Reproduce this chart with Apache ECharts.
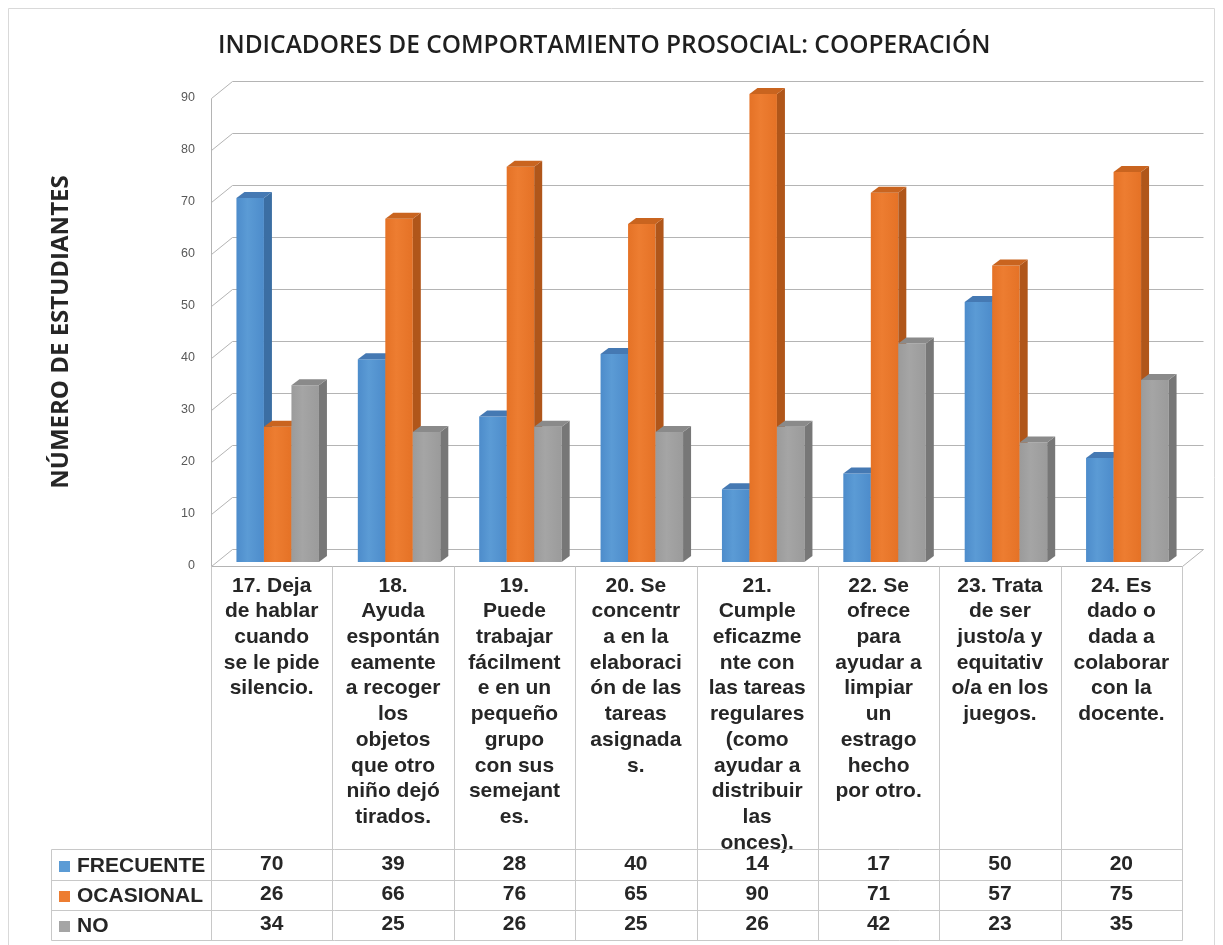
<!DOCTYPE html>
<html lang="es">
<head>
  <meta charset="UTF-8">
  <title>Indicadores de comportamiento prosocial</title>
  <style>
    * { margin: 0; padding: 0; }
    body { background: #ffffff; }
    #chart { width: 1223px; height: 945px; }
  </style>
</head>
<body>
  <div id="chart"></div>

  <script src="https://cdn.jsdelivr.net/npm/echarts@6/dist/echarts.min.js"></script>
  <script type="text/javascript">
  // datos
  var categories = [
    '17. Deja\nde hablar\ncuando\nse le pide\nsilencio.',
    '18.\nAyuda\nespontán\neamente\na recoger\nlos\nobjetos\nque otro\nniño dejó\ntirados.',
    '19.\nPuede\ntrabajar\nfácilment\ne en un\npequeño\ngrupo\ncon sus\nsemejant\nes.',
    '20. Se\nconcentr\na en la\nelaboraci\nón de las\ntareas\nasignada\ns.',
    '21.\nCumple\neficazme\nnte con\nlas tareas\nregulares\n(como\nayudar a\ndistribuir\nlas\nonces).',
    '22. Se\nofrece\npara\nayudar a\nlimpiar\nun\nestrago\nhecho\npor otro.',
    '23. Trata\nde ser\njusto/a y\nequitativ\no/a en los\njuegos.',
    '24. Es\ndado o\ndada a\ncolaborar\ncon la\ndocente.'
  ];
  var frecuente = [70, 39, 28, 40, 14, 17, 50, 20];
  var ocasional = [26, 66, 76, 65, 90, 71, 57, 75];
  var no = [34, 25, 26, 25, 26, 42, 23, 35];
  var yTicks = [0, 10, 20, 30, 40, 50, 60, 70, 80, 90];
  var seriesNames = ['FRECUENTE', 'OCASIONAL', 'NO'];

  var colors = [
    { front: '#5b9bd5', front2: '#4d8ccb', side: '#3b6ea3', top: '#4579b3' },
    { front: '#ed7d31', front2: '#e57226', side: '#b0561a', top: '#c9641f' },
    { front: '#a5a5a5', front2: '#9b9b9b', side: '#777777', top: '#8a8a8a' }
  ];

  // 3D look
  var WALL_DX = 21, WALL_DY = 17;
  var BAR_W = 27.5, BAR_DX = 8, BAR_DY = 6, BAR_SHIFT = 6, BAR_LIFT = 4;
  var GRID_COLOR = '#b4b4b4';
  var TABLE_COLOR = '#c8c8c8';
  // table rows (offsets below the floor line)
  var ROW_LINES = [283, 314, 344, 374];
  var TABLE_LEFT = 51;
  var LABEL_FONT = '"Liberation Sans", Arial, sans-serif';
  var TITLE_FONT = '"Open Sans", sans-serif';

  function line(x1, y1, x2, y2, color) {
    return { type: 'line', shape: { x1: x1, y1: y1, x2: x2, y2: y2 },
      style: { stroke: color, lineWidth: 1 } };
  }

  function renderWall(params, api) {
    var v = api.value(1);
    var cs = params.coordSys;
    var y = Math.round(api.coord([0, v])[1]) + 0.5;
    var gx = Math.round(cs.x) + 0.5;
    var gr = Math.round(cs.x + cs.width) + 0.5;
    var children = [{
      type: 'polyline',
      shape: { points: [[gx, y], [gx + WALL_DX, y - WALL_DY], [gr + WALL_DX, y - WALL_DY]] },
      style: { stroke: GRID_COLOR, lineWidth: 1, fill: null }
    }];
    if (v === 0) {
      children.push(line(gx, y, gr, y, GRID_COLOR));
      children.push(line(gr, y, gr + WALL_DX, y - WALL_DY, GRID_COLOR));
      children.push(line(gx, Math.round(cs.y) + 0.5, gx, y, GRID_COLOR));
    }
    return { type: 'group', children: children };
  }

  function makeBarRenderer(s) {
    var c = colors[s];
    return function (params, api) {
      var i = api.value(0);
      var base = api.coord([i, 0]);
      var topPt = api.coord([i, api.value(1)]);
      var x0 = base[0] + BAR_SHIFT + (s - 1.5) * BAR_W;
      var x1 = x0 + BAR_W;
      var yb = base[1] - BAR_LIFT;
      var yt = topPt[1] - BAR_LIFT;
      return {
        type: 'group',
        children: [
          { type: 'rect', shape: { x: x0, y: yt, width: BAR_W, height: yb - yt },
            style: { fill: new echarts.graphic.LinearGradient(0, 0, 1, 0, [
              { offset: 0, color: c.front2 }, { offset: 0.4, color: c.front }, { offset: 1, color: c.front2 }]) } },
          { type: 'polygon', shape: { points: [[x1, yt], [x1 + BAR_DX, yt - BAR_DY], [x1 + BAR_DX, yb - BAR_DY], [x1, yb]] },
            style: { fill: c.side } },
          { type: 'polygon', shape: { points: [[x0, yt], [x0 + BAR_DX, yt - BAR_DY], [x1 + BAR_DX, yt - BAR_DY], [x1, yt]] },
            style: { fill: c.top } }
        ]
      };
    };
  }

  var rows = [frecuente, ocasional, no];

  function renderTable(params, api) {
    var i = api.value(0);
    var base = api.coord([i, 0]);
    var bw = api.size([1, 0])[0];
    var cs = params.coordSys;
    var y0 = Math.round(base[1]) + 0.5;
    var bottom = y0 + ROW_LINES[ROW_LINES.length - 1];
    var xr = Math.round(base[0] + bw / 2) + 0.5;
    var children = [line(xr, y0, xr, bottom, TABLE_COLOR)];
    rows.forEach(function (vals, r) {
      children.push({
        type: 'text',
        style: {
          text: String(vals[i]),
          x: base[0], y: y0 + (ROW_LINES[r] + ROW_LINES[r + 1]) / 2 - 1,
          align: 'center', verticalAlign: 'middle',
          fontSize: 21, fontWeight: 'bold', fontFamily: LABEL_FONT,
          fill: '#262626'
        }
      });
    });
    if (i === 0) {
      var gx = Math.round(cs.x) + 0.5;
      var gr = Math.round(cs.x + cs.width) + 0.5;
      ROW_LINES.forEach(function (off) {
        children.push(line(TABLE_LEFT + 0.5, y0 + off, gr, y0 + off, TABLE_COLOR));
      });
      children.push(line(TABLE_LEFT + 0.5, y0 + ROW_LINES[0], TABLE_LEFT + 0.5, bottom, TABLE_COLOR));
      children.push(line(gx, y0, gx, bottom, TABLE_COLOR));
    }
    return { type: 'group', children: children };
  }

  function main() {
    var chart = echarts.init(document.getElementById('chart'));
    var option = {
      animation: false,
      backgroundColor: '#ffffff',
      title: {
        text: 'INDICADORES DE COMPORTAMIENTO PROSOCIAL: COOPERACIÓN',
        left: 213, top: 29,
        textStyle: { fontFamily: TITLE_FONT, fontSize: 24.5, fontWeight: 600, color: '#1f1f1f' }
      },
      graphic: [{
        type: 'rect', shape: { x: 8.5, y: 8.5, width: 1206, height: 960 },
        style: { fill: null, stroke: '#d9d9d9', lineWidth: 1 }, silent: true
      }],
      legend: {
        orient: 'vertical', left: 54, top: 851, itemGap: 9,
        itemWidth: 11, itemHeight: 11, icon: 'rect',
        data: seriesNames,
        textStyle: { fontSize: 21, fontWeight: 'bold', fontFamily: LABEL_FONT, color: '#262626',
          lineHeight: 21, padding: [0, 0, 0, 2] }
      },
      grid: { left: 211, top: 98, width: 971, height: 468 },
      xAxis: {
        type: 'category',
        data: categories,
        axisLine: { show: false },
        axisTick: { show: false },
        axisLabel: {
          interval: 0, margin: 7, lineHeight: 25.7,
          fontSize: 21, fontWeight: 'bold', fontFamily: LABEL_FONT, color: '#262626'
        }
      },
      yAxis: {
        type: 'value',
        min: 0, max: 90, interval: 10,
        name: 'NÚMERO DE ESTUDIANTES',
        nameLocation: 'middle', nameRotate: 90, nameGap: 138,
        nameTextStyle: { fontFamily: TITLE_FONT, fontSize: 24, fontWeight: 'bold', color: '#262626' },
        axisLine: { show: false },
        axisTick: { show: false },
        splitLine: { show: false },
        axisLabel: { margin: 16, fontSize: 12.5, color: '#595959', fontFamily: LABEL_FONT }
      },
      series: [
        { type: 'custom', name: 'wall', z: 1, clip: false, silent: true,
          renderItem: renderWall, data: yTicks.map(function (v) { return [0, v]; }) },
        { type: 'custom', name: seriesNames[0], z: 2, clip: false, itemStyle: { color: colors[0].front },
          renderItem: makeBarRenderer(0), data: frecuente.map(function (v, i) { return [i, v]; }) },
        { type: 'custom', name: seriesNames[1], z: 2, clip: false, itemStyle: { color: colors[1].front },
          renderItem: makeBarRenderer(1), data: ocasional.map(function (v, i) { return [i, v]; }) },
        { type: 'custom', name: seriesNames[2], z: 2, clip: false, itemStyle: { color: colors[2].front },
          renderItem: makeBarRenderer(2), data: no.map(function (v, i) { return [i, v]; }) },
        { type: 'custom', name: 'table', z: 3, clip: false, silent: true,
          renderItem: renderTable, data: categories.map(function (c, i) { return [i, 0]; }) }
      ]
    };
    chart.setOption(option);
  }

  window.addEventListener('load', main);
  </script>
</body>
</html>
